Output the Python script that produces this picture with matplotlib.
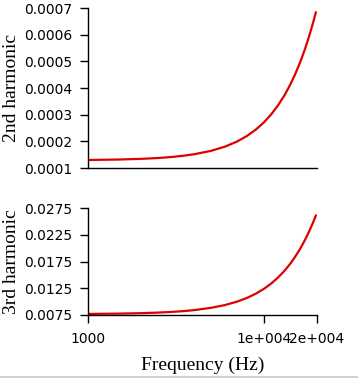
import matplotlib
matplotlib.use("Agg")
import matplotlib.pyplot as plt
from matplotlib.lines import Line2D

# frequency points (Hz) and harmonic amplitudes
freq = [1000, 1500, 2000, 2500, 3000, 3500, 4000, 5000, 6000, 7000, 8000, 9000,
        10000, 11000, 12000, 13000, 14000, 15000, 16000, 17000, 18000, 19000, 19700]
harm2 = [0.0001300, 0.0001318, 0.0001343, 0.0001375, 0.0001414, 0.0001461,
         0.0001515, 0.0001643, 0.0001801, 0.0001986, 0.0002201, 0.0002444,
         0.0002716, 0.0003016, 0.0003345, 0.0003702, 0.0004089, 0.0004503,
         0.0004947, 0.0005418, 0.0005919, 0.0006448, 0.0006836]
harm3 = [0.00770, 0.00776, 0.00784, 0.00795, 0.00808, 0.00823, 0.00841, 0.00884,
         0.00936, 0.00998, 0.01069, 0.01150, 0.01240, 0.01340, 0.01449, 0.01568,
         0.01696, 0.01834, 0.01981, 0.02138, 0.02304, 0.02480, 0.02608]

yticks2 = [0.0001, 0.0002, 0.0003, 0.0004, 0.0005, 0.0006, 0.0007]
yticks3 = [0.0075, 0.0125, 0.0175, 0.0225, 0.0275]
xticks = [1000, 10000, 20000]
xticklabels = ["1000", "1e+004", "2e+004"]

W, H = 358, 378
RED = "#e00000"
SERIF = ["Liberation Serif", "DejaVu Serif"]

fig = plt.figure(figsize=(W / 100, H / 100), dpi=100)
ax1 = fig.add_axes([88 / W, 1 - 168 / H, 229 / W, 160 / H])
ax2 = fig.add_axes([88 / W, 1 - 315 / H, 229 / W, 107 / H])


def style(ax, yt, label):
    ax.set_xscale("log")
    ax.set_xlim(1000, 20000)
    ax.set_ylim(yt[0], yt[-1])
    ax.set_yticks(yt)
    ax.set_yticklabels([f"{v:.4f}" for v in yt], fontsize=10, family="DejaVu Sans")
    ax.spines["top"].set_visible(False)
    ax.spines["right"].set_visible(False)
    for s in ("left", "bottom"):
        ax.spines[s].set_linewidth(1.0)
    ax.tick_params(axis="y", direction="out", length=6, width=1, pad=5)
    ax.set_ylabel(label, family=SERIF, fontsize=14)
    ax.yaxis.set_label_coords(-76 / 229, 0.5)
    ax.yaxis.label.set_va("center")


ax1.plot(freq, harm2, color=RED, lw=1.6)
style(ax1, yticks2, "2nd harmonic")
ax1.tick_params(axis="x", which="both", length=0, labelbottom=False)

ax2.plot(freq, harm3, color=RED, lw=1.6)
style(ax2, yticks3, "3rd harmonic")
ax2.set_xticks(xticks)
ax2.set_xticklabels(xticklabels, fontsize=10, family="DejaVu Sans")
ax2.minorticks_off()
ax2.tick_params(axis="x", which="both", direction="out", length=6, width=1, pad=6)
ax2.set_xlabel("Frequency (Hz)", family=SERIF, fontsize=14)
ax2.xaxis.set_label_coords(0.5, -50 / 107)
ax2.xaxis.label.set_va("center")

# thin grey rule along the bottom edge
fig.add_artist(Line2D([0, 1], [1 - 376.5 / H] * 2, color="#c8c8c8", lw=1.2))

fig.savefig("out.png", dpi=100)
